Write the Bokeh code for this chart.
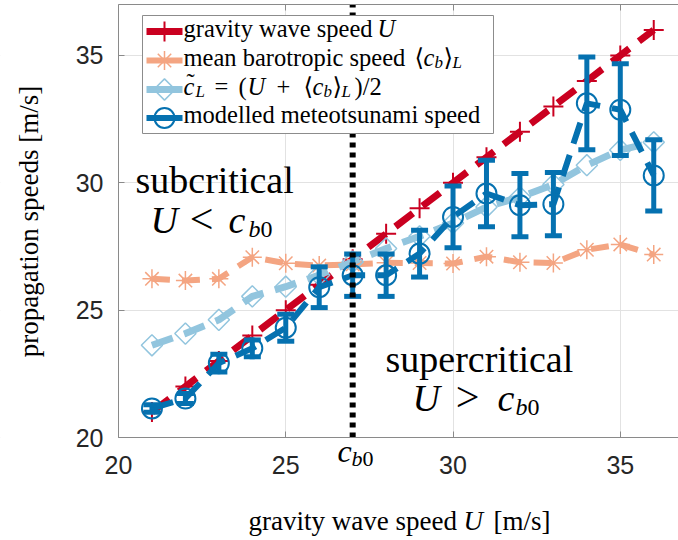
from bokeh.plotting import figure
from bokeh.models import Range1d, LinearAxis, FixedTicker, Label, BoxAnnotation
from bokeh.embed import file_html
from bokeh.resources import INLINE

# ---------------- data ----------------
speed_U = [21, 22, 23, 24, 25, 26, 27, 28, 29, 30, 31, 32, 33, 34, 35, 36]
gravity_wave = [21, 22, 23, 24, 25, 26, 27, 28, 29, 30, 31, 32, 33, 34, 35, 36]
mean_barotropic = [26.23, 26.16, 26.23, 27.08, 26.84, 26.75, 26.80, 26.86,
                   26.85, 26.83, 27.10, 26.88, 26.85, 27.37, 27.58, 27.18]
c_tilde = [23.62, 24.08, 24.62, 25.54, 25.92, 26.38, 26.90, 27.42,
           27.90, 28.42, 29.05, 29.44, 29.93, 30.69, 31.29, 31.59]
modelled = [21.14, 21.53, 22.92, 23.50, 24.31, 25.90, 26.37, 26.37,
            27.22, 28.66, 29.58, 29.12, 29.16, 33.12, 32.87, 30.29]
modelled_err = [0.15, 0.20, 0.35, 0.33, 0.53, 0.80, 0.83, 0.83,
                0.92, 1.21, 1.31, 1.24, 1.24, 1.82, 1.80, 1.40]
c_b0 = 27.0
x_ticks = [20, 25, 30, 35]
y_ticks = [20, 25, 30, 35]

RED, ORANGE, LBLUE, DBLUE = "#ca0020", "#f4a582", "#92c5de", "#0571b0"
SERIF = "Liberation Serif"
SANS = "Liberation Sans"

# ---------------- layout ----------------
# The plotting frame covers the whole page; the axes sit at fixed data
# locations (x = 20, y = 20) so that all texts can live inside the frame.
W, H = 678, 540
AXL, FR, FT, AXB = 118, 678, 4, 437      # pixel position of the axes box
X0, X1 = 20, 36.74
Y0, Y1 = 20, 37
PXX = (FR - AXL) / (X1 - X0)
PXY = (AXB - FT) / (Y1 - Y0)


def dx(px):
    return X0 + (px - AXL) / PXX


def dy(py):
    return Y0 + (AXB - py) / PXY


p = figure(width=W, height=H, x_range=Range1d(dx(0), X1), y_range=Range1d(dy(H), Y1),
           output_backend="svg", toolbar_location=None,
           min_border_left=0, min_border_right=0, min_border_top=FT,
           min_border_bottom=0)
p.outline_line_color = None
p.background_fill_color = "white"
p.border_fill_color = "white"

AX = "#8a8a8a"
xa, ya = p.xaxis[0], p.yaxis[0]
for ax in (xa, ya):
    ax.axis_line_color = AX
    ax.major_tick_line_color = AX
    ax.major_tick_in = 6
    ax.major_tick_out = 0
    ax.minor_tick_line_color = None
    ax.major_label_text_font = SANS
    ax.major_label_text_font_size = "25px"
    ax.major_label_text_color = "#262626"

xa.ticker = FixedTicker(ticks=x_ticks)
ya.ticker = FixedTicker(ticks=y_ticks)
xa.fixed_location = Y0
ya.fixed_location = X0
xa.bounds = (X0, X1)
ya.bounds = (Y0, Y1)
xa.major_label_standoff = 18
ya.major_label_standoff = 15

top_ax = LinearAxis(ticker=FixedTicker(ticks=x_ticks),
                    major_label_overrides={t: "" for t in x_ticks})
top_ax.axis_line_color = AX
top_ax.major_tick_line_color = AX
top_ax.major_tick_in = 6
top_ax.major_tick_out = 0
top_ax.minor_tick_line_color = None
top_ax.major_label_text_font_size = "1px"
top_ax.major_label_standoff = 0
top_ax.bounds = (X0, X1)
p.add_layout(top_ax, "above")

p.xgrid.ticker = FixedTicker(ticks=x_ticks)
p.ygrid.ticker = FixedTicker(ticks=y_ticks)
p.xgrid.grid_line_color = "#e2e2e2"
p.ygrid.grid_line_color = "#e2e2e2"
# hide the grid outside the axes box
p.add_layout(BoxAnnotation(top=Y0, fill_color="white", fill_alpha=1.0, line_color=None,
                           level="underlay"))
p.add_layout(BoxAnnotation(right=X0, fill_color="white", fill_alpha=1.0, line_color=None,
                           level="underlay"))

DASH = "22 12"

# gravity wave speed U
p.line(speed_U, gravity_wave, line_color=RED, line_width=7, line_dash=DASH)
p.scatter(speed_U, gravity_wave, marker="cross", size=20, line_color=RED, line_width=2)

# mean barotropic speed
p.line(speed_U, mean_barotropic, line_color=ORANGE, line_width=6, line_dash="18 12")
p.scatter(speed_U, mean_barotropic, marker="asterisk", size=19, line_color=ORANGE, line_width=1.5)

# c tilde
p.line(speed_U, c_tilde, line_color=LBLUE, line_width=7, line_dash=DASH)
p.scatter(speed_U, c_tilde, marker="square", angle=0.785398, size=15, line_color=LBLUE,
          line_width=1.5, fill_color=None)

# modelled with error bars
lo = [m - e for m, e in zip(modelled, modelled_err)]
hi = [m + e for m, e in zip(modelled, modelled_err)]
p.line(speed_U, modelled, line_color=DBLUE, line_width=6, line_dash=DASH)
p.segment(x0=speed_U, y0=lo, x1=speed_U, y1=hi, line_color=DBLUE, line_width=5)
p.rect(x=speed_U + speed_U, y=lo + hi, width=17, height=5, width_units="screen",
       height_units="screen", fill_color=DBLUE, line_color=None)
p.scatter(speed_U, modelled, marker="circle", size=20, line_color=DBLUE, line_width=2,
          fill_color=None)

# critical speed line
p.segment(x0=[c_b0], y0=[Y0], x1=[c_b0], y1=[Y1], line_color="black", line_width=6,
          line_dash="5 5")

# ---------------- legend (hand built for math text) ----------------
p.add_layout(BoxAnnotation(left=dx(142), right=dx(493), top=dy(15), bottom=dy(133),
                           fill_color="white", fill_alpha=1.0, line_color="#8c8c8c",
                           line_width=1, line_alpha=1.0))
rows = [31, 60, 89, 117.5]
samples = [
    dict(color=RED, lw=7, marker="cross", size=20, mlw=2, angle=0.0),
    dict(color=ORANGE, lw=6, marker="asterisk", size=19, mlw=1.5, angle=0.0),
    dict(color=LBLUE, lw=7, marker="square", size=15, mlw=1.5, angle=0.785398),
    dict(color=DBLUE, lw=6, marker="circle", size=20, mlw=2, angle=0.0),
]
for r, s in zip(rows, samples):
    yc = dy(r)
    p.line([dx(146), dx(182)], [yc, yc], line_color=s["color"], line_width=s["lw"],
           level="overlay")
    p.scatter([dx(164)], [yc], marker=s["marker"], size=s["size"], angle=s["angle"],
              line_color=s["color"], line_width=s["mlw"], fill_color=None, level="overlay")


def lab(px, py, text, size, style="normal", align="left", font=SERIF, angle=0.0):
    # compensate the renderer's baseline offset (about 0.3 em)
    if angle == 0.0:
        py = py - 0.3 * size
    else:
        px = px - 0.3 * size
    p.add_layout(Label(x=dx(px), y=dy(py), text=text, text_font=font,
                       text_font_size=f"{size}px", text_font_style=style, angle=angle,
                       text_align=align, text_baseline="alphabetic", text_color="black"))


LS, SS = 24.5, 17
b1, b2, b3, b4 = 35.5, 64.3, 93.0, 121.8
lab(183, b1, "gravity wave speed", LS)
lab(377, b1, "U", LS, "italic")

lab(183, b2, "mean barotropic speed", LS)
lab(414, b2, "⟨", LS, font="DejaVu Serif")
lab(423, b2, "c", LS, "italic")
lab(434, b2 + 5 - 0.3 * (LS - SS), "b", SS, "italic")
lab(443, b2, "⟩", LS, font="DejaVu Serif")
lab(452, b2 + 5 - 0.3 * (LS - SS), "L", SS, "italic")

lab(183, b3, "c", LS, "italic")
lab(186, b3 - 4, "˜", LS)
lab(195, b3 + 5 - 0.3 * (LS - SS), "L", SS, "italic")
lab(214, b3, "=", LS)
lab(238, b3, "(", LS)
lab(247, b3, "U", LS, "italic")
lab(276, b3, "+", LS)
lab(303, b3, "⟨", LS, font="DejaVu Serif")
lab(312, b3, "c", LS, "italic")
lab(323, b3 + 5 - 0.3 * (LS - SS), "b", SS, "italic")
lab(332, b3, "⟩", LS, font="DejaVu Serif")
lab(341, b3 + 5 - 0.3 * (LS - SS), "L", SS, "italic")
lab(354, b3, ")/2", LS)

lab(183, b4, "modelled meteotsunami speed", LS)

# ---------------- region annotations ----------------
lab(135, 190.7, "subcritical", 38)
lab(150, 231, "U", 38, "italic")
lab(201, 231, "<", 42, align="center")
lab(228, 231, "c", 38, "italic")
lab(248, 236, "b", 24, "italic")
lab(260, 236, "0", 24)

lab(385, 370, "supercritical", 38)
lab(412, 409, "U", 38, "italic")
lab(467, 409, ">", 42, align="center")
lab(497, 409, "c", 38, "italic")
lab(515, 414, "b", 24, "italic")
lab(527, 414, "0", 24)

# c_b0 label under the axis
lab(337, 460, "c", 32, "italic")
lab(351, 465, "b", 22, "italic")
lab(362, 465, "0", 22)

# axis titles
lab(248, 529, "gravity wave speed", 27)
lab(463, 529, "U", 27, "italic")
lab(493, 529, "[m/s]", 27)
lab(37, 221, "propagation speeds [m/s]", 27, align="center", angle=1.5707963)

open("out.html", "w").write(file_html(p, INLINE))
